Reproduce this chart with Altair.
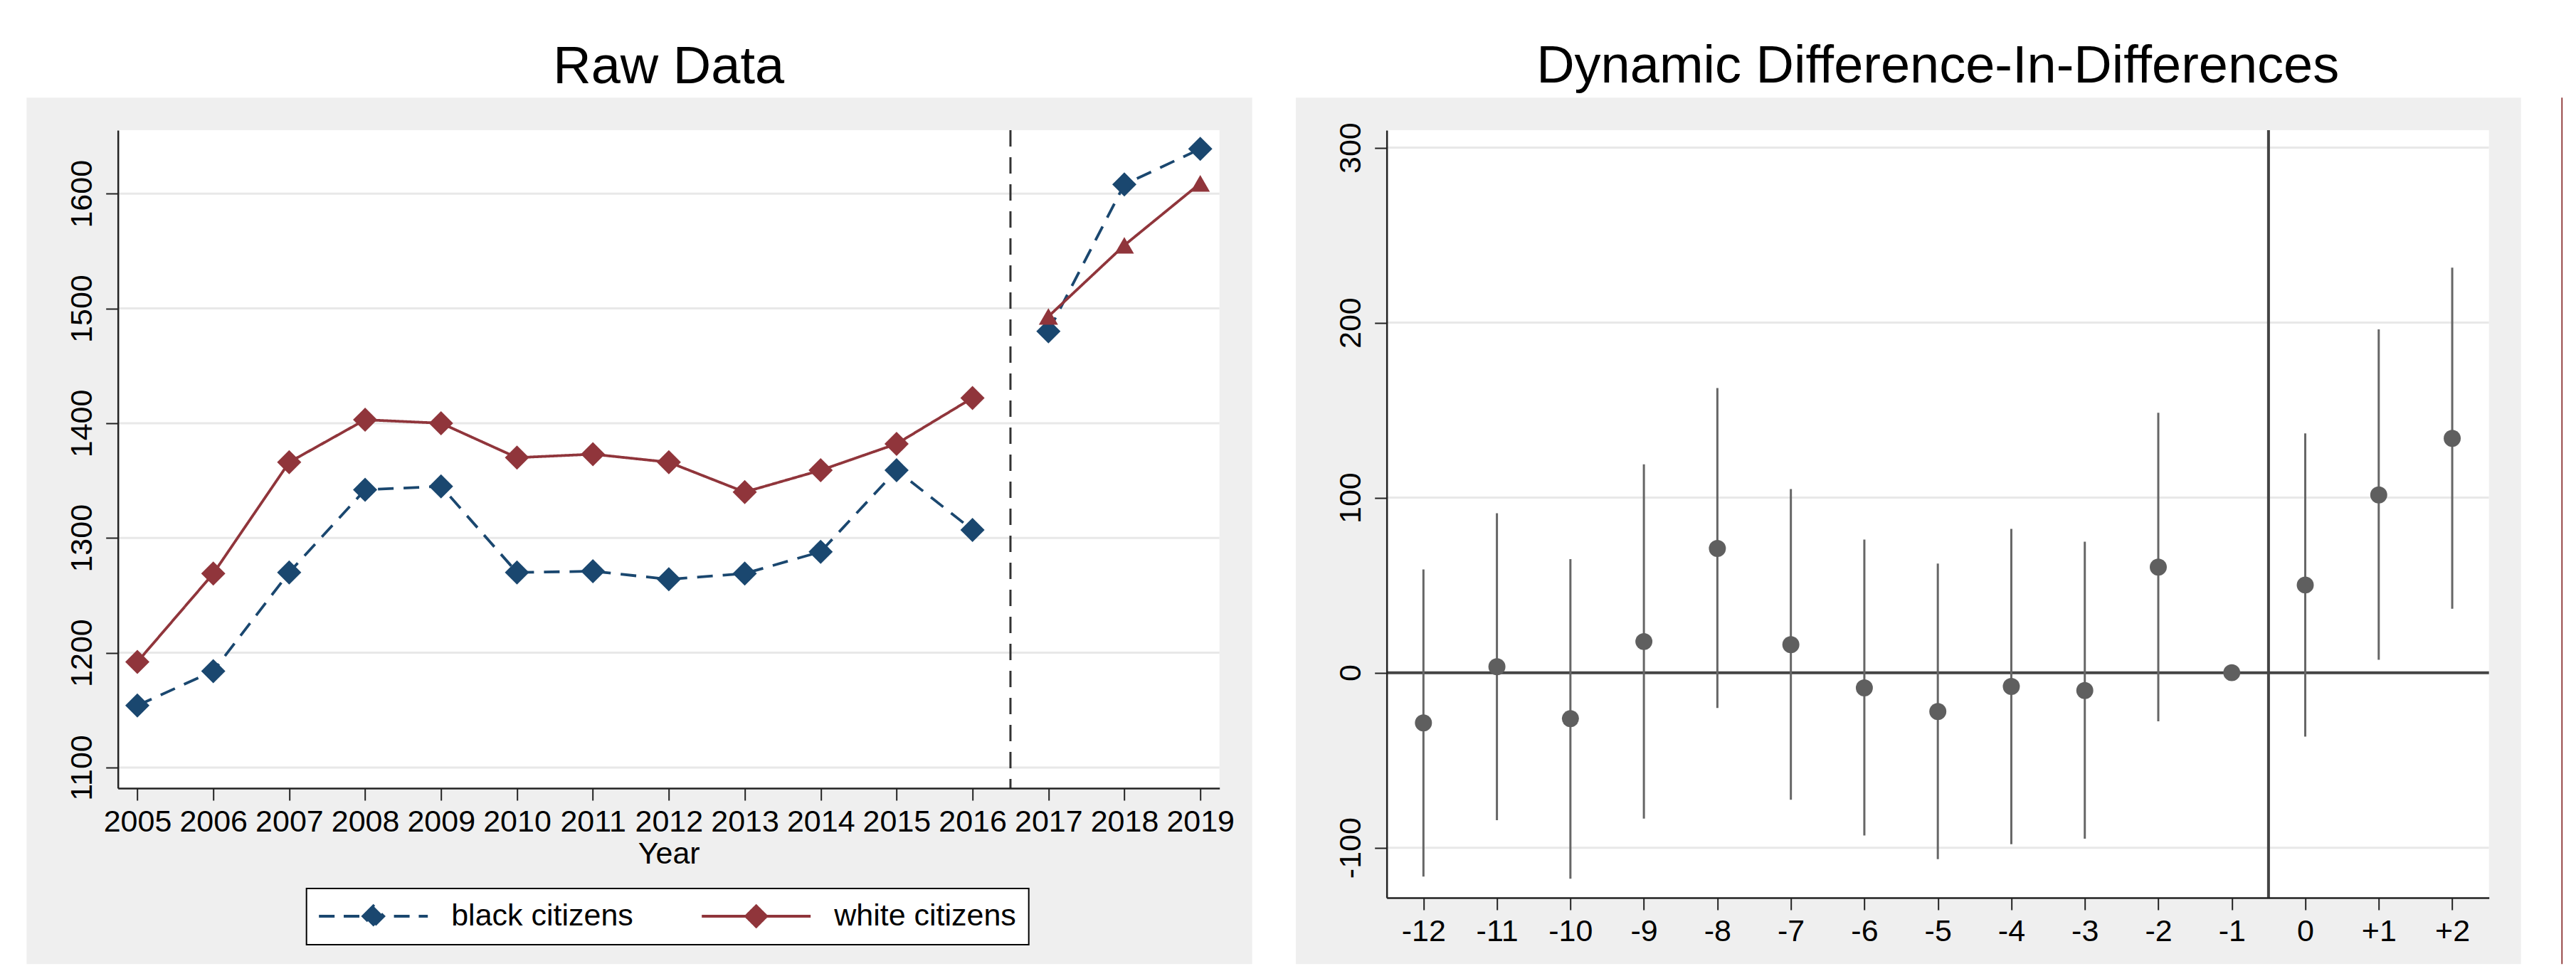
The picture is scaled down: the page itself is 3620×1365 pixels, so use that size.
import altair as alt
import pandas as pd

FONT = "Liberation Sans"

# ---------------- data ----------------
years = [2005, 2006, 2007, 2008, 2009, 2010, 2011, 2012, 2013, 2014, 2015, 2016, 2017, 2018, 2019]
black_vals = [1154, 1184, 1270, 1342, 1345, 1270, 1271, 1264, 1269, 1288, 1359, 1307, 1480, 1608, 1639]
white_vals = [1192, 1269, 1366, 1403, 1400, 1370, 1373, 1366, 1340, 1359, 1382, 1422, 1493, 1555, 1609]
black_markers = ["diamond"] * 15
white_markers = ["diamond"] * 12 + ["triangle"] * 3
series_names = ["black citizens", "white citizens"]
left_y_ticks = [1100, 1200, 1300, 1400, 1500, 1600]
treat_line_left = [2016.5]

rel_time = [-12, -11, -10, -9, -8, -7, -6, -5, -4, -3, -2, -1, 0, 1, 2]
coef = [-28.7, 3.4, -26.3, 17.8, 71.0, 16.0, -8.7, -22.2, -7.9, -10.2, 60.3, 0.0, 50.1, 101.6, 133.9]
ci_low = [-116.5, -84.3, -117.7, -83.4, -20.2, -72.6, -93.0, -106.5, -98.0, -94.9, -27.8, None, -36.5, 7.4, 36.5]
ci_high = [59.0, 91.1, 64.9, 119.1, 162.6, 104.9, 76.1, 62.3, 82.2, 74.8, 148.5, None, 136.7, 196.2, 231.4]
right_y_ticks = [-100, 0, 100, 200, 300]
zero_line = [0]
treat_line_right = [-0.5]

# ---------------- tables ----------------
df_left = pd.DataFrame({
    "year": years + years,
    "value": black_vals + white_vals,
    "series": [series_names[0]] * len(years) + [series_names[1]] * len(years),
    "marker": black_markers + white_markers,
})
df_left["segment"] = df_left["series"] + "_" + df_left["year"].map(lambda y: "pre" if y <= 2016 else "post")

df_coef = pd.DataFrame({"rel": rel_time, "coef": coef})
df_ci = pd.DataFrame({"rel": rel_time, "lo": ci_low, "hi": ci_high}).dropna()
one = pd.DataFrame({"k": [0]})

# ---------------- styling ----------------
NAVY = "#1a476f"
MAROON = "#90353b"
GREY_BG = "#efefef"
GRID = "#e8e8e8"
AX = "#222222"

LW, LH = 1548, 925
RW, RH = 1549, 1079
TITLE_OFFSET = -53.3

color_scale = alt.Scale(domain=series_names, range=[NAVY, MAROON])
xs_left = alt.Scale(domain=[2004.744, 2019.253], nice=False, zero=False)
ys_left = alt.Scale(domain=[1082.0, 1655.3], nice=False, zero=False)
xs_right = alt.Scale(domain=[-12.5, 2.5], nice=False, zero=False)
ys_right = alt.Scale(domain=[-128.6, 310.0], nice=False, zero=False)

common_axis = dict(
    grid=False, tickSize=17, tickWidth=2, tickColor=AX, domainColor=AX, domainWidth=2.5,
    labelFont=FONT, labelFontSize=43, labelColor="black", labelFlush=False,
    labelOverlap=False, zindex=1,
)
plain_label = "'' + datum.value"

x_axis_left = alt.Axis(values=years, labelExpr=plain_label, title="Year", labelPadding=10,
                       titleFont=FONT, titleFontSize=43, titleFontWeight="normal",
                       titleColor="black", titlePadding=2, **common_axis)
y_axis_left = alt.Axis(values=left_y_ticks, labelExpr=plain_label, title=None, labelAngle=270,
                       labelAlign="center", labelBaseline="alphabetic", labelPadding=20, **common_axis)
x_axis_right = alt.Axis(values=rel_time, title=None, labelPadding=10,
                        labelExpr="datum.value > 0 ? '+' + datum.value : '' + datum.value",
                        **common_axis)
y_axis_right = alt.Axis(values=right_y_ticks, labelExpr=plain_label, title=None, labelAngle=270,
                        labelAlign="center", labelBaseline="alphabetic", labelPadding=20, **common_axis)

PATH_SOLID = "M-4.5,0L4.5,0M-0.85,0L0,-0.85L0.85,0L0,0.85Z"
PATH_DASH = "M-4.5,0L-3.15,0M-2.45,0L0,0M1.7,0L3.1,0M3.75,0L4.5,0M-0.85,0L0,-0.85L0.85,0L0,0.85Z"

is_black = f"datum.value === '{series_names[0]}'"
legend_def = alt.Legend(
    title=None, orient="none", legendX=265, legendY=1066, direction="horizontal",
    fillColor="white", strokeColor="black", padding=17.5,
    labelFont=FONT, labelFontSize=43, labelColor="black", labelLimit=600,
    labelOffset=88, symbolOffset=55, symbolSize=1156,
    symbolType={"expr": f"{is_black} ? '{PATH_DASH}' : '{PATH_SOLID}'"},
    symbolFillColor={"expr": f"{is_black} ? '{NAVY}' : '{MAROON}'"},
    symbolStrokeWidth=4, symbolOpacity=1, columnPadding=88,
)


def panel_bg(w, h, x0, x1, y0, y1):
    grey = alt.Chart(one).mark_rect(color=GREY_BG).encode(
        x=alt.value(x0), x2=alt.value(x1), y=alt.value(y0), y2=alt.value(y1))
    white = alt.Chart(one).mark_rect(color="white").encode(
        x=alt.value(0), x2=alt.value(w), y=alt.value(0), y2=alt.value(h))
    return grey, white


# ---------------- left panel ----------------
gL, wL = panel_bg(LW, LH, -128.3, 1594, -45.7, 1172.3)

gridL = alt.Chart(pd.DataFrame({"v": left_y_ticks})).mark_rule(color=GRID, strokeWidth=3).encode(
    y=alt.Y("v:Q", scale=ys_left, axis=y_axis_left))

vlineL = alt.Chart(pd.DataFrame({"x": treat_line_left})).mark_rule(
    color="#333333", strokeWidth=3, strokeDash=[23, 15]).encode(
    x=alt.X("x:Q", scale=xs_left, axis=x_axis_left))

lines = alt.Chart(df_left).mark_line(strokeWidth=3.8).encode(
    x=alt.X("year:Q", scale=xs_left, axis=x_axis_left),
    y=alt.Y("value:Q", scale=ys_left, axis=y_axis_left),
    color=alt.Color("series:N", scale=color_scale, legend=legend_def),
    strokeDash=alt.StrokeDash("series:N", scale=alt.Scale(domain=series_names, range=[[22, 14], [1, 0]]),
                              legend=None),
    detail="segment:N",
)

pts_d = alt.Chart(df_left).transform_filter("datum.marker === 'diamond'").mark_point(
    shape="diamond", filled=True, size=1156, opacity=1).encode(
    x=alt.X("year:Q", scale=xs_left, axis=x_axis_left),
    y=alt.Y("value:Q", scale=ys_left, axis=y_axis_left),
    color=alt.Color("series:N", scale=color_scale, legend=None),
)
pts_t = alt.Chart(df_left).transform_filter("datum.marker === 'triangle'").mark_point(
    shape="triangle-up", filled=True, size=729, opacity=1).encode(
    x=alt.X("year:Q", scale=xs_left, axis=x_axis_left),
    y=alt.Y("value:Q", scale=ys_left, axis=y_axis_left),
    color=alt.Color("series:N", scale=color_scale, legend=None),
)

left = alt.layer(gL, wL, gridL, vlineL, lines, pts_d, pts_t).properties(
    width=LW, height=LH,
    title=alt.TitleParams("Raw Data", font=FONT, fontSize=74, fontWeight="normal", color="black",
                          anchor="middle", frame="group", offset=TITLE_OFFSET, baseline="alphabetic"),
)

# ---------------- right panel ----------------
gR, wR = panel_bg(RW, RH, -127.7, 1594, -45.7, 1172.3)

edge_line = alt.Chart(one).mark_rule(color="#7a1414", strokeWidth=1.5).encode(
    x=alt.value(1651.6), y=alt.value(-45.7), y2=alt.value(1172.3))

gridR = alt.Chart(pd.DataFrame({"v": right_y_ticks})).mark_rule(color=GRID, strokeWidth=3).encode(
    y=alt.Y("v:Q", scale=ys_right, axis=y_axis_right))

zeroR = alt.Chart(pd.DataFrame({"v": zero_line})).mark_rule(color="#444444", strokeWidth=4).encode(
    y=alt.Y("v:Q", scale=ys_right, axis=y_axis_right))

vlineR = alt.Chart(pd.DataFrame({"x": treat_line_right})).mark_rule(color="#444444", strokeWidth=4).encode(
    x=alt.X("x:Q", scale=xs_right, axis=x_axis_right))

ciR = alt.Chart(df_ci).mark_rule(color="#666666", strokeWidth=3).encode(
    x=alt.X("rel:Q", scale=xs_right, axis=x_axis_right),
    y=alt.Y("lo:Q", scale=ys_right, axis=y_axis_right),
    y2="hi:Q",
)

ptsR = alt.Chart(df_coef).mark_circle(color="#5f5f5f", size=572, opacity=1).encode(
    x=alt.X("rel:Q", scale=xs_right, axis=x_axis_right),
    y=alt.Y("coef:Q", scale=ys_right, axis=y_axis_right),
)

right = alt.layer(gR, wR, edge_line, gridR, zeroR, vlineR, ciR, ptsR).properties(
    width=RW, height=RH,
    title=alt.TitleParams("Dynamic Difference-In-Differences", font=FONT, fontSize=74,
                          fontWeight="normal", color="black", anchor="middle", frame="group",
                          offset=TITLE_OFFSET, baseline="alphabetic"),
)

chart = alt.hconcat(left, right, spacing=61).properties(
    padding={"left": 28.7, "top": 48, "right": 5, "bottom": 0},
    background="white",
).configure(font=FONT).configure_view(stroke=None, fill="white").configure_legend(strokeWidth=2)

chart.save("out.html", embed_options={"renderer": "svg", "actions": False})
